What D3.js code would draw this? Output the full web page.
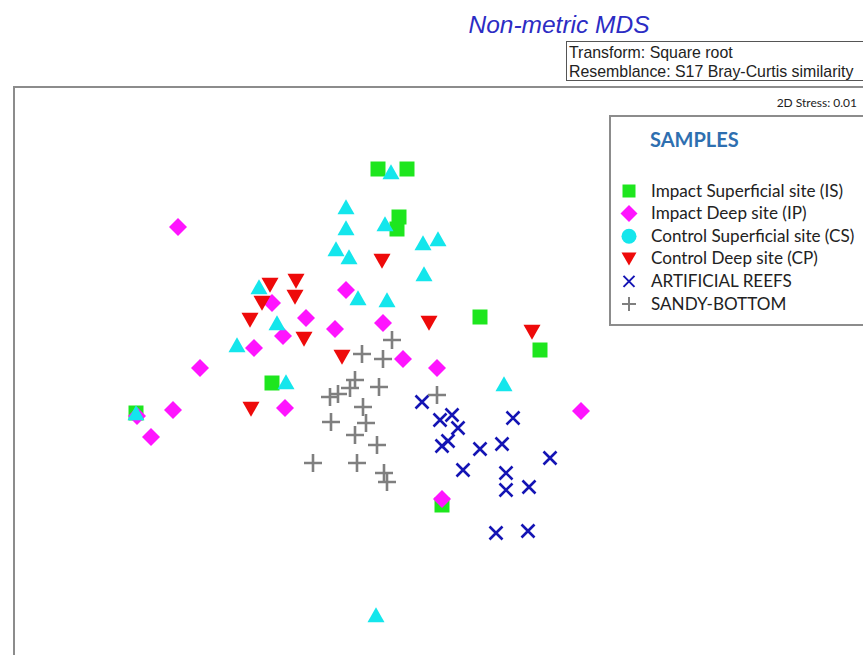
<!DOCTYPE html>
<html>
<head>
<meta charset="utf-8">
<script src="https://cdn.jsdelivr.net/npm/d3@7"></script>
<style>
  body { margin: 0; background: #fff; }
  svg { display: block; }
</style>
</head>
<body>
<svg id="svg"></svg>
<script>
// nMDS coordinates (x, y)
const isPts = [[0.04,1.005],[0.185,1.005],[0.145,0.765],[0.135,0.705],[0.55,0.265],
  [0.85,0.10],[-0.49,-0.065],[-1.17,-0.215],[0.36,-0.675]]
const ipPts = [[-0.96,0.715],[-0.12,0.40],[-0.49,0.335],[-0.32,0.26],[-0.435,0.17],
  [-0.58,0.11],[-0.175,0.205],[0.065,0.235],[0.165,0.055],[0.335,0.01],[-0.85,0.01],
  [-0.425,-0.19],[-0.985,-0.20],[-1.095,-0.335],[-1.165,-0.23],[1.055,-0.205],[0.36,-0.645]]
const cpPts = [[-0.50,0.425],[-0.37,0.445],[-0.54,0.335],[-0.375,0.365],[-0.60,0.25],
  [-0.33,0.155],[-0.14,0.065],[0.06,0.545],[0.295,0.235],[0.81,0.19],[-0.595,-0.195]]
const csPts = [[0.105,0.99],[-0.12,0.815],[-0.12,0.71],[0.075,0.73],[-0.17,0.605],
  [-0.105,0.565],[0.265,0.635],[0.34,0.655],[0.27,0.48],[-0.06,0.36],[0.085,0.35],
  [-0.465,0.235],[-0.555,0.415],[-0.665,0.125],[-0.42,-0.06],[-1.17,-0.215],
  [0.67,-0.07],[0.03,-1.225]]
const arPts = [[0.26,-0.16],[0.35,-0.25],[0.41,-0.225],[0.44,-0.29],[0.36,-0.38],
  [0.39,-0.355],[0.55,-0.395],[0.66,-0.37],[0.715,-0.24],[0.90,-0.44],[0.465,-0.50],
  [0.68,-0.515],[0.68,-0.60],[0.795,-0.585],[0.63,-0.815],[0.79,-0.805]]
const sbPts = [[0.11,0.15],[-0.04,0.08],[0.065,0.055],[-0.075,-0.05],[-0.10,-0.09],
  [0.045,-0.085],[-0.16,-0.12],[-0.20,-0.135],[-0.035,-0.185],[-0.02,-0.265],
  [-0.195,-0.26],[-0.075,-0.325],[0.035,-0.375],[-0.285,-0.465],[-0.065,-0.465],
  [0.07,-0.515],[0.085,-0.56],[0.335,-0.125]]

const legendLabels = ["Impact Superficial site (IS)", "Impact Deep site (IP)",
  "Control Superficial site (CS)", "Control Deep site (CP)", "ARTIFICIAL REEFS", "SANDY-BOTTOM"]

const W = 863, H = 655
const svg = d3.select("#svg").attr("width", W).attr("height", H)

const x = d3.scaleLinear().domain([-1.78, 2.52]).range([14, 874])
const y = d3.scaleLinear().domain([-1.45, 1.415]).range([660, 87])

// marker shapes, centred on their box
const shapes = {
  square: s => `M${-s/2},${-s/2}h${s}v${s}h${-s}Z`,
  diamond: s => `M0,${-s/2}L${s/2},0L0,${s/2}L${-s/2},0Z`,
  up: s => `M0,${-s*0.45}L${s/2},${s*0.42}L${-s/2},${s*0.42}Z`,
  down: s => `M0,${s*0.45}L${s/2},${-s*0.42}L${-s/2},${-s*0.42}Z`,
  cross: s => `M${-s/2},${-s/2}L${s/2},${s/2}M${s/2},${-s/2}L${-s/2},${s/2}`,
  plus: s => `M${-s/2},0H${s/2}M0,${-s/2}V${s/2}`,
  circle: s => d3.symbol(d3.symbolCircle, Math.PI * s * s / 4)()
}

const series = [
  {pts: isPts, shape: "square", size: 15, color: "#1ee61e"},
  {pts: ipPts, shape: "diamond", size: 18, color: "#ff14ff"},
  {pts: cpPts, shape: "down", size: 17, color: "#ee0a0a"},
  {pts: csPts, shape: "up", size: 17, color: "#14e6ec"},
  {pts: arPts, shape: "cross", size: 13, color: "#1414b4", line: true},
  {pts: sbPts, shape: "plus", size: 18, color: "#7f7f7f", line: true}
]

// plot frame (runs off the right and bottom edge)
svg.append("rect")
  .attr("x", 14).attr("y", 87).attr("width", 900).attr("height", 600)
  .attr("fill", "none").attr("stroke", "#8c8c8c").attr("stroke-width", 2)

series.forEach(s => {
  svg.append("g").selectAll("path")
    .data(s.pts)
    .join("path")
    .attr("transform", d => `translate(${x(d[0])},${y(d[1])})`)
    .attr("d", shapes[s.shape](s.size))
    .attr("fill", s.line ? "none" : s.color)
    .attr("stroke", s.line ? s.color : "none")
    .attr("stroke-width", s.line ? 2.6 : 0)
})

// title and transform box
svg.append("text")
  .attr("x", 559).attr("y", 33)
  .attr("text-anchor", "middle")
  .style("font", "italic 24.5px 'Liberation Sans', Arial, sans-serif")
  .attr("fill", "#2c2cc4")
  .text("Non-metric MDS")

svg.append("rect")
  .attr("x", 566.5).attr("y", 41.5).attr("width", 300).attr("height", 39)
  .attr("fill", "#fff").attr("stroke", "#555").attr("stroke-width", 1)

svg.selectAll(".info")
  .data(["Transform: Square root", "Resemblance: S17 Bray-Curtis similarity"])
  .join("text")
  .attr("x", 569).attr("y", (d, i) => 58 + i * 19)
  .style("font", "15.9px 'Liberation Sans', Arial, sans-serif")
  .attr("fill", "#222")
  .text(d => d)

svg.append("text")
  .attr("x", 857).attr("y", 107)
  .attr("text-anchor", "end")
  .style("font", "12px Lato, sans-serif")
  .attr("fill", "#222")
  .text("2D Stress: 0.01")

// legend
const lg = svg.append("g")
lg.append("rect")
  .attr("x", 610).attr("y", 116).attr("width", 260).attr("height", 209)
  .attr("fill", "#fff").attr("stroke", "#8c8c8c").attr("stroke-width", 2)

lg.append("text")
  .attr("x", 650).attr("y", 147)
  .style("font", "bold 20px Lato, sans-serif")
  .attr("fill", "#2e6fb0")
  .text("SAMPLES")

const legendShapes = ["square", "diamond", "circle", "down", "cross", "plus"]
const legendSizes = [13, 17, 15, 15, 11, 14]

legendLabels.forEach((lab, i) => {
  const s = series[[0, 1, 3, 2, 4, 5][i]]
  const cy = 191 + i * 22.6
  lg.append("path")
    .attr("transform", `translate(629,${cy})`)
    .attr("d", shapes[legendShapes[i]](legendSizes[i]))
    .attr("fill", s.line ? "none" : s.color)
    .attr("stroke", s.line ? s.color : "none")
    .attr("stroke-width", s.line ? 2 : 0)
  lg.append("text")
    .attr("x", 651).attr("y", cy + 5.5)
    .style("font", "17.1px Lato, sans-serif")
    .attr("fill", "#222")
    .text(lab)
})
</script>
</body>
</html>
